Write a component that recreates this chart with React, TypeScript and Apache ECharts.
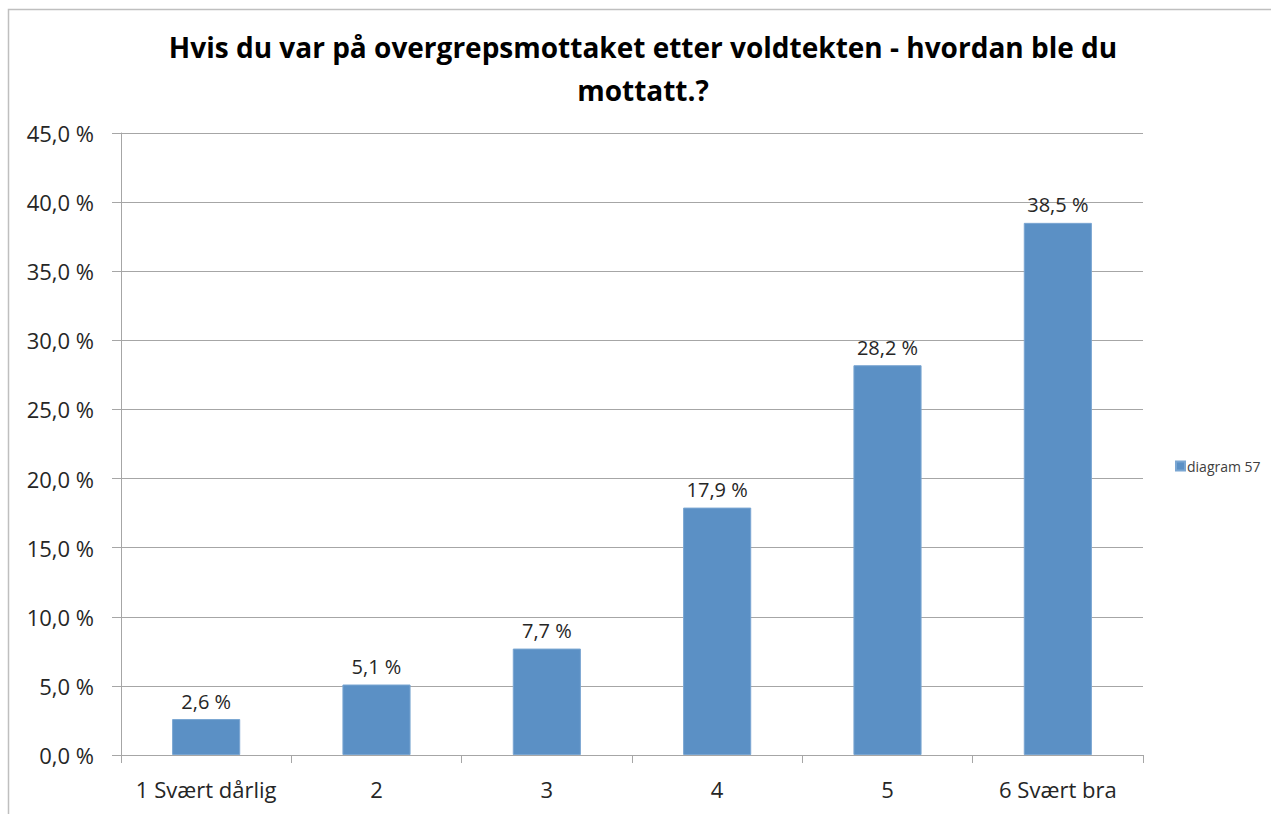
import React, { useEffect, useRef } from "react";
import * as echarts from "echarts";

const categories = ["1 Svært dårlig", "2", "3", "4", "5", "6 Svært bra"];
const values = [2.6, 5.1, 7.7, 17.9, 28.2, 38.5];
const seriesName = "diagram 57";
const titleText = "Hvis du var på overgrepsmottaket etter voldtekten - hvordan ble du\nmottatt.?";

const fmt = (v: number) => v.toFixed(1).replace(".", ",") + " %";

export default function App() {
  const ref = useRef<HTMLDivElement>(null);
  useEffect(() => {
    const chart = echarts.init(ref.current!, undefined, { renderer: "svg" });
    const font = "'Open Sans', 'Noto Sans', sans-serif";
    chart.setOption({
      animation: false,
      backgroundColor: "#ffffff",
      textStyle: { fontFamily: font },
      title: {
        text: titleText,
        left: 638,
        textAlign: "center",
        top: 20,
        textStyle: {
          fontFamily: font,
          fontSize: 28,
          fontWeight: "bold",
          color: "#000000",
          lineHeight: 43,
        },
      },
      legend: {
        left: 1170,
        top: 454,
        icon: "rect",
        itemWidth: 9,
        itemHeight: 9,
        itemGap: 4,
        textStyle: { fontFamily: font, fontSize: 14, color: "#404040", padding: [0, 0, 0, -3] },
        data: [seriesName],
      },
      graphic: [
        {
          type: "rect",
          shape: { x: 8.5, y: 9.5, width: 1400, height: 900 },
          style: { fill: "none", stroke: "#bfbfbf", lineWidth: 1.5 },
          silent: true,
        },
      ],
      grid: { left: 121, right: 128, top: 133, bottom: 59, containLabel: false },
      xAxis: {
        type: "category",
        data: categories,
        boundaryGap: true,
        axisLine: { show: true, lineStyle: { color: "#a6a6a6", width: 1 } },
        axisTick: { show: true, length: 8, inside: false, alignWithLabel: false, lineStyle: { color: "#a6a6a6" } },
        axisLabel: { fontFamily: font, fontSize: 22, color: "#262626", margin: 23, interval: 0 },
        splitLine: { show: false },
      },
      yAxis: {
        type: "value",
        min: 0,
        max: 45,
        interval: 5,
        axisLine: { show: true, lineStyle: { color: "#a6a6a6", width: 1 } },
        axisTick: { show: true, length: 9, lineStyle: { color: "#a6a6a6" } },
        axisLabel: { fontFamily: font, fontSize: 22, color: "#262626", margin: 27, formatter: (v: number) => fmt(v) },
        splitLine: { show: true, lineStyle: { color: "#a6a6a6", width: 1 } },
      },
      series: [
        {
          name: seriesName,
          type: "bar",
          data: values,
          barWidth: "40%",
          itemStyle: { color: "#5b90c5", borderColor: "#7aa6d2", borderWidth: 1 },
          label: {
            show: true,
            position: "top",
            distance: 8,
            fontFamily: font,
            fontSize: 20,
            color: "#262626",
            formatter: (p: any) => fmt(p.value),
          },
        },
      ],
    });
    return () => chart.dispose();
  }, []);
  return (
    <div
      ref={ref}
      style={{ position: "fixed", left: 0, top: 0, width: 1271, height: 814 }}
    />
  );
}
